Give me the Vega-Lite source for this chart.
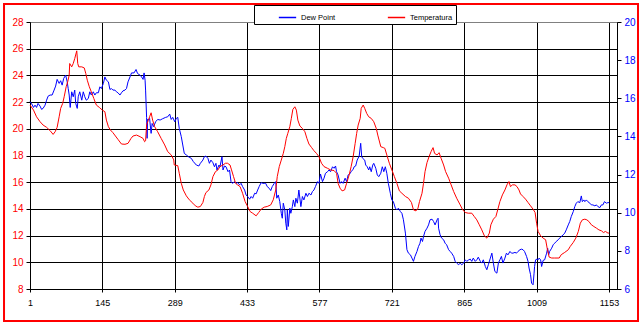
{
"$schema":"https://vega.github.io/schema/vega-lite/v6.json",
"width":587,"height":267,
"autosize":{"type":"none"},
"padding":{"left":30,"top":22,"right":25,"bottom":36},
"background":"white",
"config":{"view":{"stroke":"#808080","strokeWidth":1},"font":"Liberation Sans"},
"datasets":{
"dew":[
{"series":"Dew Point","index":1,"value":15.82},{"series":"Dew Point","index":4,"value":15.73},{"series":"Dew Point","index":8,"value":15.52},{"series":"Dew Point","index":11,"value":15.64},{"series":"Dew Point","index":14,"value":15.52},{"series":"Dew Point","index":17,"value":15.73},{"series":"Dew Point","index":21,"value":15.59},{"series":"Dew Point","index":24,"value":15.42},{"series":"Dew Point","index":27,"value":15.47},{"series":"Dew Point","index":31,"value":15.64},{"series":"Dew Point","index":34,"value":15.9},{"series":"Dew Point","index":37,"value":16.11},{"series":"Dew Point","index":41,"value":16.17},{"series":"Dew Point","index":45,"value":16.17},{"series":"Dew Point","index":49,"value":16.43},{"series":"Dew Point","index":52,"value":16.64},{"series":"Dew Point","index":55,"value":16.99},{"series":"Dew Point","index":59,"value":16.78},{"series":"Dew Point","index":62,"value":16.92},{"series":"Dew Point","index":65,"value":16.69},{"series":"Dew Point","index":68,"value":17.04},{"series":"Dew Point","index":72,"value":17.21},{"series":"Dew Point","index":75,"value":16.86},{"series":"Dew Point","index":77,"value":16.51},{"series":"Dew Point","index":79,"value":16.17},{"series":"Dew Point","index":81,"value":15.52},{"series":"Dew Point","index":84,"value":16.34},{"series":"Dew Point","index":87,"value":16.08},{"series":"Dew Point","index":90,"value":16.43},{"series":"Dew Point","index":92,"value":15.73},{"series":"Dew Point","index":95,"value":15.47},{"series":"Dew Point","index":97,"value":16.08},{"series":"Dew Point","index":100,"value":16.34},{"series":"Dew Point","index":104,"value":15.9},{"series":"Dew Point","index":107,"value":16.34},{"series":"Dew Point","index":110,"value":16.08},{"series":"Dew Point","index":113,"value":15.9},{"series":"Dew Point","index":117,"value":15.99},{"series":"Dew Point","index":120,"value":16.34},{"series":"Dew Point","index":123,"value":16.17},{"series":"Dew Point","index":127,"value":16.34},{"series":"Dew Point","index":130,"value":16.17},{"series":"Dew Point","index":133,"value":16.29},{"series":"Dew Point","index":137,"value":16.29},{"series":"Dew Point","index":140,"value":16.6},{"series":"Dew Point","index":143,"value":16.51},{"series":"Dew Point","index":147,"value":16.78},{"series":"Dew Point","index":150,"value":17.12},{"series":"Dew Point","index":153,"value":16.95},{"series":"Dew Point","index":157,"value":16.86},{"series":"Dew Point","index":160,"value":16.46},{"series":"Dew Point","index":163,"value":16.51},{"series":"Dew Point","index":166,"value":16.43},{"series":"Dew Point","index":170,"value":16.43},{"series":"Dew Point","index":173,"value":16.34},{"series":"Dew Point","index":176,"value":16.29},{"series":"Dew Point","index":180,"value":16.17},{"series":"Dew Point","index":183,"value":16.29},{"series":"Dew Point","index":186,"value":16.39},{"series":"Dew Point","index":190,"value":16.43},{"series":"Dew Point","index":193,"value":16.51},{"series":"Dew Point","index":196,"value":16.86},{"series":"Dew Point","index":200,"value":17.12},{"series":"Dew Point","index":203,"value":17.33},{"series":"Dew Point","index":208,"value":17.33},{"series":"Dew Point","index":212,"value":17.51},{"series":"Dew Point","index":215,"value":17.3},{"series":"Dew Point","index":220,"value":17.21},{"series":"Dew Point","index":223,"value":17.12},{"series":"Dew Point","index":226,"value":16.99},{"series":"Dew Point","index":228,"value":17.33},{"series":"Dew Point","index":230,"value":16.95},{"series":"Dew Point","index":231,"value":16.43},{"series":"Dew Point","index":233,"value":15.0},{"series":"Dew Point","index":234,"value":13.9},{"series":"Dew Point","index":235,"value":14.9},{"series":"Dew Point","index":236,"value":14.86},{"series":"Dew Point","index":239,"value":14.94},{"series":"Dew Point","index":242,"value":14.16},{"series":"Dew Point","index":244,"value":14.68},{"series":"Dew Point","index":247,"value":14.51},{"series":"Dew Point","index":251,"value":14.77},{"series":"Dew Point","index":255,"value":14.89},{"series":"Dew Point","index":260,"value":14.86},{"series":"Dew Point","index":265,"value":14.93},{"series":"Dew Point","index":271,"value":15.0},{"series":"Dew Point","index":275,"value":15.03},{"series":"Dew Point","index":279,"value":15.17},{"series":"Dew Point","index":282,"value":14.89},{"series":"Dew Point","index":285,"value":15.0},{"series":"Dew Point","index":289,"value":14.77},{"series":"Dew Point","index":292,"value":14.94},{"series":"Dew Point","index":295,"value":15.0},{"series":"Dew Point","index":298,"value":14.42},{"series":"Dew Point","index":302,"value":13.99},{"series":"Dew Point","index":305,"value":13.55},{"series":"Dew Point","index":308,"value":13.11},{"series":"Dew Point","index":312,"value":13.03},{"series":"Dew Point","index":316,"value":12.94},{"series":"Dew Point","index":322,"value":12.85},{"series":"Dew Point","index":326,"value":12.68},{"series":"Dew Point","index":332,"value":12.5},{"series":"Dew Point","index":337,"value":12.45},{"series":"Dew Point","index":340,"value":12.59},{"series":"Dew Point","index":345,"value":12.76},{"series":"Dew Point","index":348,"value":12.94},{"series":"Dew Point","index":351,"value":12.97},{"series":"Dew Point","index":355,"value":12.85},{"series":"Dew Point","index":358,"value":12.59},{"series":"Dew Point","index":361,"value":12.76},{"series":"Dew Point","index":365,"value":12.62},{"series":"Dew Point","index":368,"value":12.41},{"series":"Dew Point","index":371,"value":12.59},{"series":"Dew Point","index":373,"value":12.24},{"series":"Dew Point","index":377,"value":12.5},{"series":"Dew Point","index":379,"value":12.41},{"series":"Dew Point","index":383,"value":12.94},{"series":"Dew Point","index":385,"value":12.24},{"series":"Dew Point","index":388,"value":12.45},{"series":"Dew Point","index":391,"value":12.41},{"series":"Dew Point","index":395,"value":12.15},{"series":"Dew Point","index":398,"value":12.24},{"series":"Dew Point","index":401,"value":11.63},{"series":"Dew Point","index":404,"value":11.54},{"series":"Dew Point","index":408,"value":11.63},{"series":"Dew Point","index":411,"value":11.54},{"series":"Dew Point","index":414,"value":11.58},{"series":"Dew Point","index":418,"value":11.46},{"series":"Dew Point","index":421,"value":11.54},{"series":"Dew Point","index":424,"value":11.37},{"series":"Dew Point","index":428,"value":11.19},{"series":"Dew Point","index":431,"value":10.93},{"series":"Dew Point","index":434,"value":10.85},{"series":"Dew Point","index":438,"value":10.71},{"series":"Dew Point","index":441,"value":10.85},{"series":"Dew Point","index":444,"value":10.76},{"series":"Dew Point","index":448,"value":11.02},{"series":"Dew Point","index":451,"value":10.99},{"series":"Dew Point","index":454,"value":11.19},{"series":"Dew Point","index":457,"value":11.37},{"series":"Dew Point","index":461,"value":11.58},{"series":"Dew Point","index":464,"value":11.54},{"series":"Dew Point","index":467,"value":11.54},{"series":"Dew Point","index":470,"value":11.54},{"series":"Dew Point","index":473,"value":11.37},{"series":"Dew Point","index":477,"value":11.28},{"series":"Dew Point","index":480,"value":11.16},{"series":"Dew Point","index":483,"value":11.37},{"series":"Dew Point","index":487,"value":11.54},{"series":"Dew Point","index":490,"value":11.63},{"series":"Dew Point","index":492,"value":10.76},{"series":"Dew Point","index":495,"value":10.93},{"series":"Dew Point","index":498,"value":10.58},{"series":"Dew Point","index":501,"value":9.97},{"series":"Dew Point","index":503,"value":9.71},{"series":"Dew Point","index":505,"value":10.5},{"series":"Dew Point","index":508,"value":10.15},{"series":"Dew Point","index":510,"value":9.45},{"series":"Dew Point","index":512,"value":9.1},{"series":"Dew Point","index":513,"value":10.15},{"series":"Dew Point","index":515,"value":9.28},{"series":"Dew Point","index":518,"value":10.24},{"series":"Dew Point","index":520,"value":9.97},{"series":"Dew Point","index":523,"value":10.32},{"series":"Dew Point","index":525,"value":10.67},{"series":"Dew Point","index":528,"value":10.32},{"series":"Dew Point","index":530,"value":10.76},{"series":"Dew Point","index":533,"value":10.5},{"series":"Dew Point","index":536,"value":11.19},{"series":"Dew Point","index":540,"value":10.32},{"series":"Dew Point","index":543,"value":10.85},{"series":"Dew Point","index":546,"value":10.67},{"series":"Dew Point","index":550,"value":11.02},{"series":"Dew Point","index":553,"value":10.85},{"series":"Dew Point","index":556,"value":11.02},{"series":"Dew Point","index":560,"value":10.93},{"series":"Dew Point","index":563,"value":11.11},{"series":"Dew Point","index":566,"value":11.19},{"series":"Dew Point","index":569,"value":11.37},{"series":"Dew Point","index":573,"value":11.63},{"series":"Dew Point","index":576,"value":11.54},{"series":"Dew Point","index":579,"value":12.03},{"series":"Dew Point","index":583,"value":11.63},{"series":"Dew Point","index":586,"value":11.81},{"series":"Dew Point","index":589,"value":12.07},{"series":"Dew Point","index":593,"value":12.15},{"series":"Dew Point","index":596,"value":12.24},{"series":"Dew Point","index":599,"value":12.15},{"series":"Dew Point","index":603,"value":12.41},{"series":"Dew Point","index":606,"value":12.33},{"series":"Dew Point","index":609,"value":12.45},{"series":"Dew Point","index":611,"value":12.15},{"series":"Dew Point","index":614,"value":11.98},{"series":"Dew Point","index":618,"value":11.54},{"series":"Dew Point","index":621,"value":11.63},{"series":"Dew Point","index":624,"value":11.54},{"series":"Dew Point","index":628,"value":11.81},{"series":"Dew Point","index":631,"value":11.63},{"series":"Dew Point","index":634,"value":11.98},{"series":"Dew Point","index":637,"value":12.03},{"series":"Dew Point","index":640,"value":12.15},{"series":"Dew Point","index":644,"value":12.28},{"series":"Dew Point","index":646,"value":12.41},{"series":"Dew Point","index":649,"value":12.45},{"series":"Dew Point","index":652,"value":12.76},{"series":"Dew Point","index":656,"value":12.97},{"series":"Dew Point","index":659,"value":13.64},{"series":"Dew Point","index":661,"value":12.94},{"series":"Dew Point","index":663,"value":12.85},{"series":"Dew Point","index":667,"value":12.76},{"series":"Dew Point","index":669,"value":12.5},{"series":"Dew Point","index":672,"value":12.41},{"series":"Dew Point","index":675,"value":12.24},{"series":"Dew Point","index":677,"value":12.41},{"series":"Dew Point","index":680,"value":12.15},{"series":"Dew Point","index":683,"value":12.5},{"series":"Dew Point","index":685,"value":12.59},{"series":"Dew Point","index":689,"value":12.33},{"series":"Dew Point","index":692,"value":11.98},{"series":"Dew Point","index":695,"value":11.89},{"series":"Dew Point","index":699,"value":12.07},{"series":"Dew Point","index":702,"value":12.41},{"series":"Dew Point","index":705,"value":12.15},{"series":"Dew Point","index":708,"value":12.41},{"series":"Dew Point","index":711,"value":12.07},{"series":"Dew Point","index":714,"value":11.54},{"series":"Dew Point","index":718,"value":11.02},{"series":"Dew Point","index":721,"value":10.67},{"series":"Dew Point","index":724,"value":10.58},{"series":"Dew Point","index":728,"value":10.24},{"series":"Dew Point","index":731,"value":10.15},{"series":"Dew Point","index":734,"value":10.24},{"series":"Dew Point","index":738,"value":10.06},{"series":"Dew Point","index":741,"value":9.97},{"series":"Dew Point","index":744,"value":9.63},{"series":"Dew Point","index":748,"value":8.93},{"series":"Dew Point","index":751,"value":8.06},{"series":"Dew Point","index":754,"value":7.88},{"series":"Dew Point","index":758,"value":7.79},{"series":"Dew Point","index":761,"value":7.62},{"series":"Dew Point","index":764,"value":7.45},{"series":"Dew Point","index":767,"value":7.71},{"series":"Dew Point","index":771,"value":7.97},{"series":"Dew Point","index":774,"value":8.23},{"series":"Dew Point","index":777,"value":8.4},{"series":"Dew Point","index":779,"value":8.67},{"series":"Dew Point","index":782,"value":8.49},{"series":"Dew Point","index":784,"value":8.75},{"series":"Dew Point","index":787,"value":9.02},{"series":"Dew Point","index":791,"value":9.19},{"series":"Dew Point","index":794,"value":9.36},{"series":"Dew Point","index":797,"value":9.63},{"series":"Dew Point","index":801,"value":9.66},{"series":"Dew Point","index":804,"value":9.54},{"series":"Dew Point","index":807,"value":9.36},{"series":"Dew Point","index":811,"value":9.63},{"series":"Dew Point","index":813,"value":9.71},{"series":"Dew Point","index":814,"value":9.19},{"series":"Dew Point","index":817,"value":8.84},{"series":"Dew Point","index":820,"value":8.67},{"series":"Dew Point","index":824,"value":8.58},{"series":"Dew Point","index":827,"value":8.4},{"series":"Dew Point","index":830,"value":8.32},{"series":"Dew Point","index":834,"value":8.06},{"series":"Dew Point","index":837,"value":7.97},{"series":"Dew Point","index":840,"value":7.88},{"series":"Dew Point","index":844,"value":7.71},{"series":"Dew Point","index":847,"value":7.45},{"series":"Dew Point","index":850,"value":7.36},{"series":"Dew Point","index":854,"value":7.27},{"series":"Dew Point","index":857,"value":7.36},{"series":"Dew Point","index":860,"value":7.27},{"series":"Dew Point","index":864,"value":7.36},{"series":"Dew Point","index":867,"value":7.53},{"series":"Dew Point","index":870,"value":7.45},{"series":"Dew Point","index":874,"value":7.53},{"series":"Dew Point","index":877,"value":7.57},{"series":"Dew Point","index":880,"value":7.45},{"series":"Dew Point","index":883,"value":7.62},{"series":"Dew Point","index":887,"value":7.45},{"series":"Dew Point","index":890,"value":7.53},{"series":"Dew Point","index":893,"value":7.67},{"series":"Dew Point","index":897,"value":7.45},{"series":"Dew Point","index":900,"value":7.36},{"series":"Dew Point","index":903,"value":7.53},{"series":"Dew Point","index":907,"value":7.18},{"series":"Dew Point","index":910,"value":7.01},{"series":"Dew Point","index":913,"value":7.27},{"series":"Dew Point","index":917,"value":7.62},{"series":"Dew Point","index":920,"value":7.88},{"series":"Dew Point","index":923,"value":7.36},{"series":"Dew Point","index":926,"value":6.92},{"series":"Dew Point","index":930,"value":6.83},{"series":"Dew Point","index":933,"value":7.36},{"series":"Dew Point","index":936,"value":7.53},{"series":"Dew Point","index":939,"value":7.71},{"series":"Dew Point","index":942,"value":7.36},{"series":"Dew Point","index":946,"value":7.62},{"series":"Dew Point","index":949,"value":7.88},{"series":"Dew Point","index":952,"value":7.79},{"series":"Dew Point","index":956,"value":7.97},{"series":"Dew Point","index":959,"value":7.88},{"series":"Dew Point","index":962,"value":7.88},{"series":"Dew Point","index":966,"value":7.92},{"series":"Dew Point","index":969,"value":7.88},{"series":"Dew Point","index":972,"value":7.97},{"series":"Dew Point","index":976,"value":8.06},{"series":"Dew Point","index":979,"value":8.09},{"series":"Dew Point","index":982,"value":8.06},{"series":"Dew Point","index":985,"value":7.97},{"series":"Dew Point","index":989,"value":7.71},{"series":"Dew Point","index":992,"value":7.45},{"series":"Dew Point","index":994,"value":7.1},{"series":"Dew Point","index":997,"value":6.75},{"series":"Dew Point","index":999,"value":6.31},{"series":"Dew Point","index":1002,"value":6.22},{"series":"Dew Point","index":1004,"value":6.83},{"series":"Dew Point","index":1005,"value":7.18},{"series":"Dew Point","index":1007,"value":7.53},{"series":"Dew Point","index":1010,"value":7.57},{"series":"Dew Point","index":1012,"value":7.53},{"series":"Dew Point","index":1014,"value":7.62},{"series":"Dew Point","index":1017,"value":7.53},{"series":"Dew Point","index":1019,"value":7.18},{"series":"Dew Point","index":1022,"value":7.5},{"series":"Dew Point","index":1025,"value":7.53},{"series":"Dew Point","index":1029,"value":7.88},{"series":"Dew Point","index":1031,"value":8.14},{"series":"Dew Point","index":1033,"value":7.79},{"series":"Dew Point","index":1035,"value":7.97},{"series":"Dew Point","index":1039,"value":8.14},{"series":"Dew Point","index":1042,"value":8.32},{"series":"Dew Point","index":1045,"value":8.4},{"series":"Dew Point","index":1048,"value":8.49},{"series":"Dew Point","index":1052,"value":8.58},{"series":"Dew Point","index":1055,"value":8.67},{"series":"Dew Point","index":1058,"value":8.75},{"series":"Dew Point","index":1062,"value":8.84},{"series":"Dew Point","index":1065,"value":8.93},{"series":"Dew Point","index":1068,"value":9.1},{"series":"Dew Point","index":1072,"value":9.36},{"series":"Dew Point","index":1075,"value":9.54},{"series":"Dew Point","index":1078,"value":9.8},{"series":"Dew Point","index":1082,"value":10.06},{"series":"Dew Point","index":1085,"value":10.32},{"series":"Dew Point","index":1088,"value":10.5},{"series":"Dew Point","index":1091,"value":10.58},{"series":"Dew Point","index":1095,"value":10.53},{"series":"Dew Point","index":1098,"value":10.88},{"series":"Dew Point","index":1100,"value":10.58},{"series":"Dew Point","index":1103,"value":10.67},{"series":"Dew Point","index":1105,"value":10.58},{"series":"Dew Point","index":1108,"value":10.67},{"series":"Dew Point","index":1111,"value":10.58},{"series":"Dew Point","index":1115,"value":10.5},{"series":"Dew Point","index":1118,"value":10.41},{"series":"Dew Point","index":1121,"value":10.41},{"series":"Dew Point","index":1125,"value":10.36},{"series":"Dew Point","index":1128,"value":10.41},{"series":"Dew Point","index":1131,"value":10.32},{"series":"Dew Point","index":1135,"value":10.27},{"series":"Dew Point","index":1138,"value":10.41},{"series":"Dew Point","index":1141,"value":10.41},{"series":"Dew Point","index":1144,"value":10.58},{"series":"Dew Point","index":1148,"value":10.5},{"series":"Dew Point","index":1151,"value":10.53},{"series":"Dew Point","index":1153,"value":10.53}
],
"temp":[
{"series":"Temperatura","index":1,"value":21.78},{"series":"Temperatura","index":8,"value":21.4},{"series":"Temperatura","index":14,"value":20.9},{"series":"Temperatura","index":21,"value":20.53},{"series":"Temperatura","index":27,"value":20.28},{"series":"Temperatura","index":34,"value":20.11},{"series":"Temperatura","index":41,"value":19.86},{"series":"Temperatura","index":47,"value":19.58},{"series":"Temperatura","index":51,"value":19.78},{"series":"Temperatura","index":55,"value":20.11},{"series":"Temperatura","index":59,"value":20.9},{"series":"Temperatura","index":62,"value":21.53},{"series":"Temperatura","index":66,"value":21.9},{"series":"Temperatura","index":69,"value":22.4},{"series":"Temperatura","index":73,"value":23.15},{"series":"Temperatura","index":76,"value":23.52},{"series":"Temperatura","index":79,"value":24.02},{"series":"Temperatura","index":80,"value":24.89},{"series":"Temperatura","index":84,"value":24.64},{"series":"Temperatura","index":87,"value":24.89},{"series":"Temperatura","index":90,"value":25.26},{"series":"Temperatura","index":94,"value":25.84},{"series":"Temperatura","index":96,"value":24.89},{"series":"Temperatura","index":98,"value":24.64},{"series":"Temperatura","index":104,"value":24.64},{"series":"Temperatura","index":109,"value":24.56},{"series":"Temperatura","index":112,"value":24.14},{"series":"Temperatura","index":115,"value":23.64},{"series":"Temperatura","index":119,"value":23.15},{"series":"Temperatura","index":123,"value":22.77},{"series":"Temperatura","index":128,"value":22.27},{"series":"Temperatura","index":133,"value":21.78},{"series":"Temperatura","index":139,"value":21.6},{"series":"Temperatura","index":145,"value":21.4},{"series":"Temperatura","index":150,"value":21.28},{"series":"Temperatura","index":153,"value":20.65},{"series":"Temperatura","index":157,"value":20.16},{"series":"Temperatura","index":161,"value":19.91},{"series":"Temperatura","index":166,"value":19.71},{"series":"Temperatura","index":171,"value":19.46},{"series":"Temperatura","index":176,"value":19.21},{"series":"Temperatura","index":183,"value":18.86},{"series":"Temperatura","index":190,"value":18.84},{"series":"Temperatura","index":196,"value":18.91},{"series":"Temperatura","index":202,"value":19.28},{"series":"Temperatura","index":206,"value":19.46},{"series":"Temperatura","index":213,"value":19.53},{"series":"Temperatura","index":220,"value":19.41},{"series":"Temperatura","index":226,"value":19.28},{"series":"Temperatura","index":229,"value":19.03},{"series":"Temperatura","index":231,"value":19.1},{"series":"Temperatura","index":233,"value":20.3},{"series":"Temperatura","index":236,"value":20.6},{"series":"Temperatura","index":239,"value":20.9},{"series":"Temperatura","index":242,"value":21.2},{"series":"Temperatura","index":245,"value":20.65},{"series":"Temperatura","index":249,"value":20.16},{"series":"Temperatura","index":255,"value":19.78},{"series":"Temperatura","index":262,"value":19.28},{"series":"Temperatura","index":269,"value":18.79},{"series":"Temperatura","index":275,"value":18.29},{"series":"Temperatura","index":282,"value":18.04},{"series":"Temperatura","index":287,"value":17.67},{"series":"Temperatura","index":288,"value":17.29},{"series":"Temperatura","index":295,"value":17.24},{"series":"Temperatura","index":298,"value":16.67},{"series":"Temperatura","index":302,"value":15.92},{"series":"Temperatura","index":306,"value":15.42},{"series":"Temperatura","index":312,"value":14.98},{"series":"Temperatura","index":318,"value":14.68},{"series":"Temperatura","index":325,"value":14.43},{"series":"Temperatura","index":330,"value":14.23},{"series":"Temperatura","index":335,"value":14.13},{"series":"Temperatura","index":340,"value":14.18},{"series":"Temperatura","index":345,"value":14.48},{"series":"Temperatura","index":348,"value":14.93},{"series":"Temperatura","index":351,"value":15.22},{"series":"Temperatura","index":357,"value":15.42},{"series":"Temperatura","index":361,"value":15.8},{"series":"Temperatura","index":365,"value":16.42},{"series":"Temperatura","index":370,"value":16.79},{"series":"Temperatura","index":375,"value":16.92},{"series":"Temperatura","index":379,"value":17.17},{"series":"Temperatura","index":385,"value":17.29},{"series":"Temperatura","index":390,"value":17.42},{"series":"Temperatura","index":394,"value":17.42},{"series":"Temperatura","index":399,"value":17.29},{"series":"Temperatura","index":402,"value":16.92},{"series":"Temperatura","index":406,"value":16.42},{"series":"Temperatura","index":410,"value":15.92},{"series":"Temperatura","index":414,"value":15.8},{"series":"Temperatura","index":419,"value":15.67},{"series":"Temperatura","index":424,"value":15.17},{"series":"Temperatura","index":429,"value":14.55},{"series":"Temperatura","index":434,"value":14.18},{"series":"Temperatura","index":439,"value":13.8},{"series":"Temperatura","index":444,"value":13.68},{"series":"Temperatura","index":451,"value":13.48},{"series":"Temperatura","index":456,"value":13.73},{"series":"Temperatura","index":461,"value":13.98},{"series":"Temperatura","index":467,"value":14.13},{"series":"Temperatura","index":473,"value":14.18},{"series":"Temperatura","index":480,"value":14.3},{"series":"Temperatura","index":485,"value":14.68},{"series":"Temperatura","index":490,"value":15.42},{"series":"Temperatura","index":493,"value":16.42},{"series":"Temperatura","index":497,"value":17.17},{"series":"Temperatura","index":501,"value":17.66},{"series":"Temperatura","index":505,"value":18.16},{"series":"Temperatura","index":508,"value":18.66},{"series":"Temperatura","index":511,"value":19.28},{"series":"Temperatura","index":514,"value":19.66},{"series":"Temperatura","index":518,"value":20.16},{"series":"Temperatura","index":521,"value":20.78},{"series":"Temperatura","index":524,"value":21.45},{"series":"Temperatura","index":528,"value":21.65},{"series":"Temperatura","index":531,"value":21.4},{"series":"Temperatura","index":534,"value":20.65},{"series":"Temperatura","index":538,"value":20.21},{"series":"Temperatura","index":543,"value":20.03},{"series":"Temperatura","index":548,"value":19.78},{"series":"Temperatura","index":552,"value":19.28},{"series":"Temperatura","index":556,"value":18.86},{"series":"Temperatura","index":561,"value":18.61},{"series":"Temperatura","index":566,"value":18.36},{"series":"Temperatura","index":571,"value":18.16},{"series":"Temperatura","index":576,"value":17.91},{"series":"Temperatura","index":581,"value":17.42},{"series":"Temperatura","index":586,"value":17.17},{"series":"Temperatura","index":593,"value":17.04},{"series":"Temperatura","index":599,"value":16.92},{"series":"Temperatura","index":606,"value":16.87},{"series":"Temperatura","index":611,"value":16.67},{"series":"Temperatura","index":614,"value":15.92},{"series":"Temperatura","index":618,"value":15.55},{"series":"Temperatura","index":622,"value":15.35},{"series":"Temperatura","index":627,"value":15.42},{"series":"Temperatura","index":631,"value":15.92},{"series":"Temperatura","index":636,"value":16.54},{"series":"Temperatura","index":640,"value":17.17},{"series":"Temperatura","index":644,"value":17.91},{"series":"Temperatura","index":648,"value":18.91},{"series":"Temperatura","index":651,"value":19.66},{"series":"Temperatura","index":654,"value":20.28},{"series":"Temperatura","index":658,"value":20.78},{"series":"Temperatura","index":660,"value":21.53},{"series":"Temperatura","index":664,"value":21.78},{"series":"Temperatura","index":667,"value":21.53},{"series":"Temperatura","index":671,"value":21.15},{"series":"Temperatura","index":675,"value":20.9},{"series":"Temperatura","index":680,"value":20.78},{"series":"Temperatura","index":685,"value":20.53},{"series":"Temperatura","index":690,"value":20.03},{"series":"Temperatura","index":693,"value":19.53},{"series":"Temperatura","index":699,"value":18.66},{"series":"Temperatura","index":704,"value":18.59},{"series":"Temperatura","index":707,"value":18.54},{"series":"Temperatura","index":711,"value":18.04},{"series":"Temperatura","index":716,"value":17.42},{"series":"Temperatura","index":721,"value":16.92},{"series":"Temperatura","index":726,"value":16.42},{"series":"Temperatura","index":731,"value":15.92},{"series":"Temperatura","index":736,"value":15.35},{"series":"Temperatura","index":741,"value":15.17},{"series":"Temperatura","index":748,"value":14.93},{"series":"Temperatura","index":754,"value":14.8},{"series":"Temperatura","index":760,"value":14.48},{"series":"Temperatura","index":764,"value":13.93},{"series":"Temperatura","index":769,"value":13.85},{"series":"Temperatura","index":773,"value":14.05},{"series":"Temperatura","index":776,"value":14.55},{"series":"Temperatura","index":781,"value":15.17},{"series":"Temperatura","index":784,"value":15.92},{"series":"Temperatura","index":787,"value":16.79},{"series":"Temperatura","index":791,"value":17.47},{"series":"Temperatura","index":795,"value":17.91},{"series":"Temperatura","index":799,"value":18.29},{"series":"Temperatura","index":803,"value":18.59},{"series":"Temperatura","index":806,"value":18.16},{"series":"Temperatura","index":811,"value":18.04},{"series":"Temperatura","index":815,"value":18.21},{"series":"Temperatura","index":819,"value":17.79},{"series":"Temperatura","index":824,"value":17.29},{"series":"Temperatura","index":828,"value":16.79},{"series":"Temperatura","index":834,"value":16.3},{"series":"Temperatura","index":839,"value":15.8},{"series":"Temperatura","index":844,"value":15.3},{"series":"Temperatura","index":850,"value":14.8},{"series":"Temperatura","index":857,"value":14.3},{"series":"Temperatura","index":862,"value":13.93},{"series":"Temperatura","index":867,"value":13.73},{"series":"Temperatura","index":873,"value":13.68},{"series":"Temperatura","index":880,"value":13.68},{"series":"Temperatura","index":885,"value":13.43},{"series":"Temperatura","index":890,"value":13.18},{"series":"Temperatura","index":895,"value":12.81},{"series":"Temperatura","index":900,"value":12.43},{"series":"Temperatura","index":905,"value":11.99},{"series":"Temperatura","index":910,"value":11.81},{"series":"Temperatura","index":915,"value":12.19},{"series":"Temperatura","index":918,"value":12.81},{"series":"Temperatura","index":923,"value":13.23},{"series":"Temperatura","index":928,"value":13.43},{"series":"Temperatura","index":932,"value":13.98},{"series":"Temperatura","index":936,"value":14.55},{"series":"Temperatura","index":941,"value":15.05},{"series":"Temperatura","index":946,"value":15.42},{"series":"Temperatura","index":950,"value":15.8},{"series":"Temperatura","index":954,"value":16.05},{"series":"Temperatura","index":957,"value":15.67},{"series":"Temperatura","index":961,"value":15.8},{"series":"Temperatura","index":966,"value":15.8},{"series":"Temperatura","index":970,"value":15.67},{"series":"Temperatura","index":974,"value":15.42},{"series":"Temperatura","index":977,"value":15.12},{"series":"Temperatura","index":982,"value":14.93},{"series":"Temperatura","index":987,"value":14.73},{"series":"Temperatura","index":992,"value":14.48},{"series":"Temperatura","index":997,"value":14.23},{"series":"Temperatura","index":1002,"value":13.98},{"series":"Temperatura","index":1006,"value":13.73},{"series":"Temperatura","index":1009,"value":12.93},{"series":"Temperatura","index":1012,"value":12.31},{"series":"Temperatura","index":1017,"value":11.99},{"series":"Temperatura","index":1022,"value":11.81},{"series":"Temperatura","index":1027,"value":11.69},{"series":"Temperatura","index":1030,"value":11.06},{"series":"Temperatura","index":1034,"value":10.39},{"series":"Temperatura","index":1039,"value":10.32},{"series":"Temperatura","index":1045,"value":10.32},{"series":"Temperatura","index":1054,"value":10.32},{"series":"Temperatura","index":1058,"value":10.57},{"series":"Temperatura","index":1065,"value":10.74},{"series":"Temperatura","index":1072,"value":10.94},{"series":"Temperatura","index":1076,"value":11.19},{"series":"Temperatura","index":1082,"value":11.49},{"series":"Temperatura","index":1087,"value":11.81},{"series":"Temperatura","index":1092,"value":12.31},{"series":"Temperatura","index":1096,"value":12.93},{"series":"Temperatura","index":1100,"value":13.18},{"series":"Temperatura","index":1105,"value":13.23},{"series":"Temperatura","index":1109,"value":13.18},{"series":"Temperatura","index":1113,"value":13.06},{"series":"Temperatura","index":1118,"value":12.81},{"series":"Temperatura","index":1123,"value":12.68},{"series":"Temperatura","index":1128,"value":12.56},{"series":"Temperatura","index":1133,"value":12.43},{"series":"Temperatura","index":1138,"value":12.36},{"series":"Temperatura","index":1142,"value":12.23},{"series":"Temperatura","index":1146,"value":12.31},{"series":"Temperatura","index":1151,"value":12.19},{"series":"Temperatura","index":1153,"value":12.19}
]
},
"layer":[
{"data":{"name":"dew"},
 "mark":{"type":"line","strokeWidth":1},
 "encoding":{
  "x":{"field":"index","type":"quantitative","scale":{"domain":[1,1169],"nice":false,"zero":false},
       "axis":{"values":[1,145,289,433,577,721,865,1009,1153],"format":"d","title":null,"grid":true,"gridColor":"black","gridOpacity":1,"domainColor":"black","tickColor":"black","tickSize":3,"labelColor":"black","labelFontSize":9,"labelFont":"Liberation Sans","labelPadding":6,"labelFlush":false,"labelOverlap":false}},
  "y":{"field":"value","type":"quantitative","scale":{"domain":[6,20],"nice":false,"zero":false},
       "axis":{"orient":"right","values":[6,8,10,12,14,16,18,20],"title":null,"grid":false,"domainColor":"black","tickColor":"black","tickSize":4,"labelColor":"#0000FF","labelFontSize":10,"labelFont":"Liberation Sans","labelPadding":3,"labelOverlap":false,"labelFlush":false}},
  "color":{"field":"series","type":"nominal","scale":{"domain":["Dew Point","Temperatura"],"range":["#0000FF","#FF0000"]},
       "legend":{"orient":"none","legendX":224,"legendY":-17,"direction":"horizontal","columns":2,"title":null,"symbolType":"stroke","symbolSize":300,"symbolStrokeWidth":1.5,"labelFontSize":7.5,"labelFont":"Liberation Sans","labelColor":"black","strokeColor":"black","fillColor":"white","padding":3,"columnPadding":30,"symbolOffset":21}}
 }},
{"data":{"name":"temp"},
 "mark":{"type":"line","strokeWidth":1},
 "encoding":{
  "x":{"field":"index","type":"quantitative","scale":{"domain":[1,1169],"nice":false,"zero":false}},
  "y":{"field":"value","type":"quantitative","scale":{"domain":[8,28],"nice":false,"zero":false},
       "axis":{"orient":"left","values":[8,10,12,14,16,18,20,22,24,26,28],"title":null,"grid":true,"gridColor":{"condition":{"test":"datum.value === 28","value":"#808080"},"value":"black"},"gridOpacity":1,"domainColor":"black","tickColor":"black","tickSize":4,"labelColor":"#FF0000","labelFontSize":10,"labelFont":"Liberation Sans","labelPadding":3,"labelOverlap":false,"labelFlush":false}},
  "color":{"field":"series","type":"nominal","scale":{"domain":["Dew Point","Temperatura"],"range":["#0000FF","#FF0000"]}}
 }},
{"data":{"values":[{}]},
 "mark":{"type":"rect","fill":"transparent","stroke":"#FF0000","strokeWidth":2,"clip":false},
 "encoding":{
  "x":{"datum":-50.7,"type":"quantitative"},
  "x2":{"datum":1210.8},
  "y":{"datum":1.0674,"type":"quantitative","scale":{"domain":[0,1],"nice":false,"zero":false},"axis":null},
  "y2":{"datum":-0.1199}
 }}
],
"resolve":{"scale":{"y":"independent"},"axis":{"y":"independent"}}
}
